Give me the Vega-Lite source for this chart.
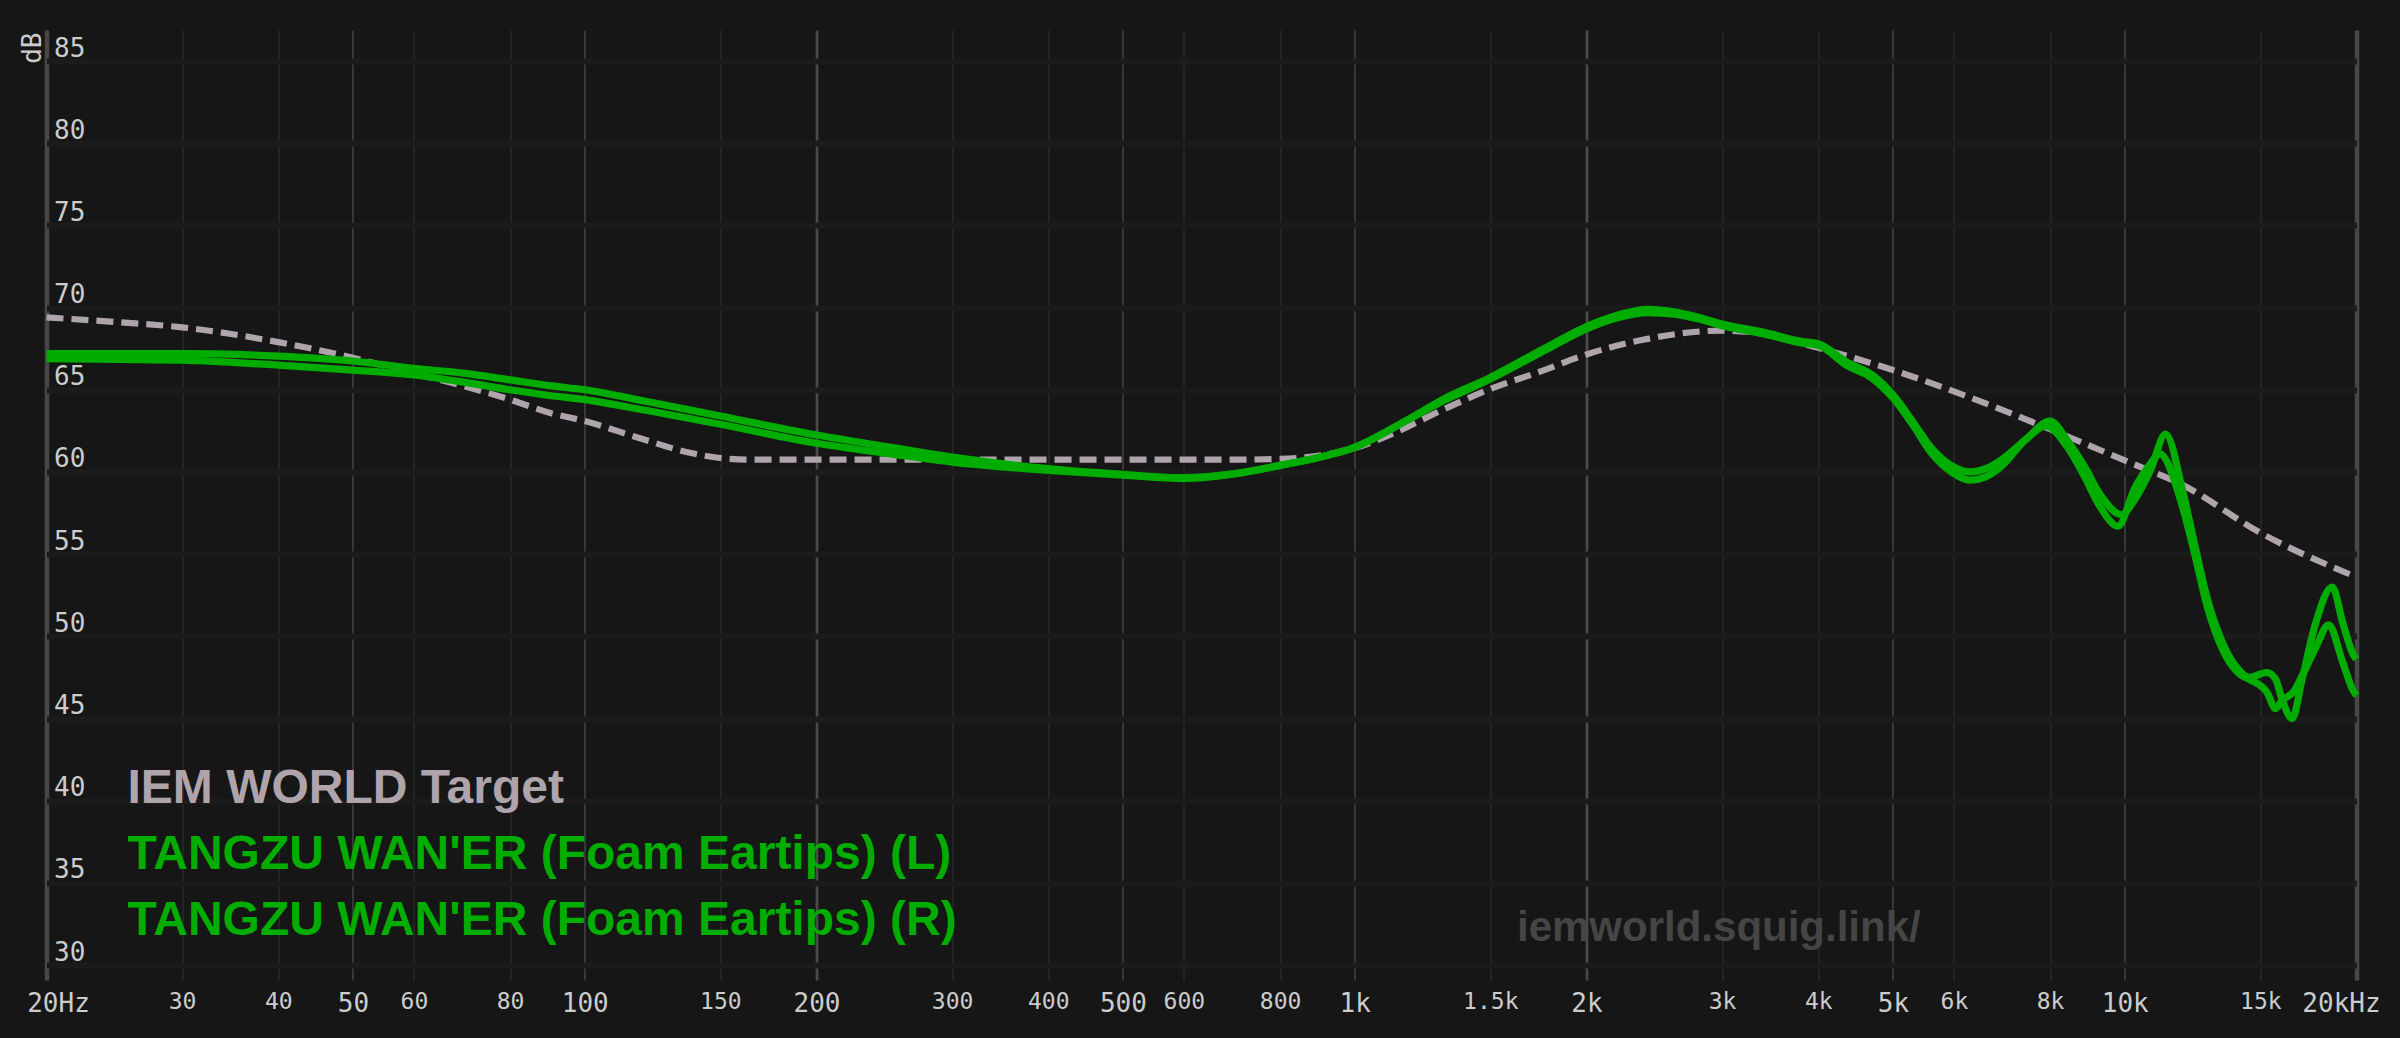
{
  "$schema": "https://vega.github.io/schema/vega-lite/v6.json",
  "width": 2310,
  "height": 950,
  "autosize": "none",
  "padding": {"left": 46.5, "top": 30, "right": 43.5, "bottom": 58},
  "background": "#161616",
  "config": {"view": {"stroke": null}, "font": "Liberation Sans"},
  "title": {
    "text": "iemworld.squig.link/",
    "orient": "top",
    "anchor": "start",
    "frame": "group",
    "font": "Liberation Sans",
    "fontSize": 42,
    "fontWeight": "bold",
    "color": "#454545",
    "baseline": "alphabetic",
    "offset": 0,
    "dx": 1470.5,
    "dy": 952.5
  },
  "datasets": {
    "target": [
      {"series": "IEM WORLD Target", "freq": 20, "db": 69.4},
      {"series": "IEM WORLD Target", "freq": 25, "db": 69.1},
      {"series": "IEM WORLD Target", "freq": 30, "db": 68.8},
      {"series": "IEM WORLD Target", "freq": 40, "db": 67.9},
      {"series": "IEM WORLD Target", "freq": 50, "db": 66.95},
      {"series": "IEM WORLD Target", "freq": 60, "db": 66.0},
      {"series": "IEM WORLD Target", "freq": 70, "db": 65.2},
      {"series": "IEM WORLD Target", "freq": 80, "db": 64.4},
      {"series": "IEM WORLD Target", "freq": 90, "db": 63.6},
      {"series": "IEM WORLD Target", "freq": 100, "db": 63.1},
      {"series": "IEM WORLD Target", "freq": 118, "db": 62.05},
      {"series": "IEM WORLD Target", "freq": 136, "db": 61.2},
      {"series": "IEM WORLD Target", "freq": 150, "db": 60.85},
      {"series": "IEM WORLD Target", "freq": 165, "db": 60.75},
      {"series": "IEM WORLD Target", "freq": 200, "db": 60.75},
      {"series": "IEM WORLD Target", "freq": 300, "db": 60.75},
      {"series": "IEM WORLD Target", "freq": 400, "db": 60.75},
      {"series": "IEM WORLD Target", "freq": 500, "db": 60.75},
      {"series": "IEM WORLD Target", "freq": 600, "db": 60.75},
      {"series": "IEM WORLD Target", "freq": 700, "db": 60.75},
      {"series": "IEM WORLD Target", "freq": 800, "db": 60.8},
      {"series": "IEM WORLD Target", "freq": 900, "db": 61.0},
      {"series": "IEM WORLD Target", "freq": 1000, "db": 61.45},
      {"series": "IEM WORLD Target", "freq": 1110, "db": 62.25},
      {"series": "IEM WORLD Target", "freq": 1290, "db": 63.7},
      {"series": "IEM WORLD Target", "freq": 1500, "db": 65.05},
      {"series": "IEM WORLD Target", "freq": 1740, "db": 66.1},
      {"series": "IEM WORLD Target", "freq": 2000, "db": 67.15},
      {"series": "IEM WORLD Target", "freq": 2400, "db": 68.1},
      {"series": "IEM WORLD Target", "freq": 3000, "db": 68.6},
      {"series": "IEM WORLD Target", "freq": 3400, "db": 68.4},
      {"series": "IEM WORLD Target", "freq": 4000, "db": 67.55},
      {"series": "IEM WORLD Target", "freq": 5000, "db": 66.2},
      {"series": "IEM WORLD Target", "freq": 6000, "db": 64.9},
      {"series": "IEM WORLD Target", "freq": 8000, "db": 62.6},
      {"series": "IEM WORLD Target", "freq": 10000, "db": 60.7},
      {"series": "IEM WORLD Target", "freq": 11900, "db": 59.2},
      {"series": "IEM WORLD Target", "freq": 15000, "db": 56.3},
      {"series": "IEM WORLD Target", "freq": 20000, "db": 53.6}
    ],
    "iem": [
      {"series": "TANGZU WAN'ER (Foam Eartips) (L)", "freq": 20, "db": 67.2},
      {"series": "TANGZU WAN'ER (Foam Eartips) (L)", "freq": 25, "db": 67.2},
      {"series": "TANGZU WAN'ER (Foam Eartips) (L)", "freq": 30, "db": 67.2},
      {"series": "TANGZU WAN'ER (Foam Eartips) (L)", "freq": 40, "db": 67.05},
      {"series": "TANGZU WAN'ER (Foam Eartips) (L)", "freq": 50, "db": 66.75},
      {"series": "TANGZU WAN'ER (Foam Eartips) (L)", "freq": 60, "db": 66.3},
      {"series": "TANGZU WAN'ER (Foam Eartips) (L)", "freq": 70, "db": 66.0},
      {"series": "TANGZU WAN'ER (Foam Eartips) (L)", "freq": 80, "db": 65.6},
      {"series": "TANGZU WAN'ER (Foam Eartips) (L)", "freq": 90, "db": 65.25},
      {"series": "TANGZU WAN'ER (Foam Eartips) (L)", "freq": 100, "db": 65.0},
      {"series": "TANGZU WAN'ER (Foam Eartips) (L)", "freq": 120, "db": 64.3},
      {"series": "TANGZU WAN'ER (Foam Eartips) (L)", "freq": 150, "db": 63.4},
      {"series": "TANGZU WAN'ER (Foam Eartips) (L)", "freq": 200, "db": 62.25},
      {"series": "TANGZU WAN'ER (Foam Eartips) (L)", "freq": 250, "db": 61.5},
      {"series": "TANGZU WAN'ER (Foam Eartips) (L)", "freq": 300, "db": 60.9},
      {"series": "TANGZU WAN'ER (Foam Eartips) (L)", "freq": 400, "db": 60.2},
      {"series": "TANGZU WAN'ER (Foam Eartips) (L)", "freq": 500, "db": 59.85},
      {"series": "TANGZU WAN'ER (Foam Eartips) (L)", "freq": 600, "db": 59.65},
      {"series": "TANGZU WAN'ER (Foam Eartips) (L)", "freq": 700, "db": 59.9},
      {"series": "TANGZU WAN'ER (Foam Eartips) (L)", "freq": 800, "db": 60.4},
      {"series": "TANGZU WAN'ER (Foam Eartips) (L)", "freq": 900, "db": 60.9},
      {"series": "TANGZU WAN'ER (Foam Eartips) (L)", "freq": 1000, "db": 61.5},
      {"series": "TANGZU WAN'ER (Foam Eartips) (L)", "freq": 1170, "db": 63.15},
      {"series": "TANGZU WAN'ER (Foam Eartips) (L)", "freq": 1300, "db": 64.4},
      {"series": "TANGZU WAN'ER (Foam Eartips) (L)", "freq": 1500, "db": 65.75},
      {"series": "TANGZU WAN'ER (Foam Eartips) (L)", "freq": 1800, "db": 67.75},
      {"series": "TANGZU WAN'ER (Foam Eartips) (L)", "freq": 2000, "db": 68.85},
      {"series": "TANGZU WAN'ER (Foam Eartips) (L)", "freq": 2200, "db": 69.55},
      {"series": "TANGZU WAN'ER (Foam Eartips) (L)", "freq": 2400, "db": 69.9},
      {"series": "TANGZU WAN'ER (Foam Eartips) (L)", "freq": 2600, "db": 69.75},
      {"series": "TANGZU WAN'ER (Foam Eartips) (L)", "freq": 2800, "db": 69.4},
      {"series": "TANGZU WAN'ER (Foam Eartips) (L)", "freq": 3000, "db": 69.0},
      {"series": "TANGZU WAN'ER (Foam Eartips) (L)", "freq": 3400, "db": 68.5},
      {"series": "TANGZU WAN'ER (Foam Eartips) (L)", "freq": 3800, "db": 67.95},
      {"series": "TANGZU WAN'ER (Foam Eartips) (L)", "freq": 4000, "db": 67.8},
      {"series": "TANGZU WAN'ER (Foam Eartips) (L)", "freq": 4350, "db": 66.7},
      {"series": "TANGZU WAN'ER (Foam Eartips) (L)", "freq": 4700, "db": 65.9},
      {"series": "TANGZU WAN'ER (Foam Eartips) (L)", "freq": 5000, "db": 64.7},
      {"series": "TANGZU WAN'ER (Foam Eartips) (L)", "freq": 5300, "db": 63.1},
      {"series": "TANGZU WAN'ER (Foam Eartips) (L)", "freq": 5600, "db": 61.5},
      {"series": "TANGZU WAN'ER (Foam Eartips) (L)", "freq": 6000, "db": 60.3},
      {"series": "TANGZU WAN'ER (Foam Eartips) (L)", "freq": 6300, "db": 60.0},
      {"series": "TANGZU WAN'ER (Foam Eartips) (L)", "freq": 6600, "db": 60.2},
      {"series": "TANGZU WAN'ER (Foam Eartips) (L)", "freq": 6900, "db": 60.7},
      {"series": "TANGZU WAN'ER (Foam Eartips) (L)", "freq": 7450, "db": 62.0},
      {"series": "TANGZU WAN'ER (Foam Eartips) (L)", "freq": 8000, "db": 63.1},
      {"series": "TANGZU WAN'ER (Foam Eartips) (L)", "freq": 8400, "db": 62.0},
      {"series": "TANGZU WAN'ER (Foam Eartips) (L)", "freq": 8850, "db": 60.4},
      {"series": "TANGZU WAN'ER (Foam Eartips) (L)", "freq": 9300, "db": 58.6},
      {"series": "TANGZU WAN'ER (Foam Eartips) (L)", "freq": 9900, "db": 57.4},
      {"series": "TANGZU WAN'ER (Foam Eartips) (L)", "freq": 10300, "db": 58.3},
      {"series": "TANGZU WAN'ER (Foam Eartips) (L)", "freq": 10800, "db": 60.1},
      {"series": "TANGZU WAN'ER (Foam Eartips) (L)", "freq": 11300, "db": 62.3},
      {"series": "TANGZU WAN'ER (Foam Eartips) (L)", "freq": 11900, "db": 58.8},
      {"series": "TANGZU WAN'ER (Foam Eartips) (L)", "freq": 12300, "db": 55.8},
      {"series": "TANGZU WAN'ER (Foam Eartips) (L)", "freq": 12800, "db": 52.3},
      {"series": "TANGZU WAN'ER (Foam Eartips) (L)", "freq": 13400, "db": 49.6},
      {"series": "TANGZU WAN'ER (Foam Eartips) (L)", "freq": 14100, "db": 47.9},
      {"series": "TANGZU WAN'ER (Foam Eartips) (L)", "freq": 14500, "db": 47.5},
      {"series": "TANGZU WAN'ER (Foam Eartips) (L)", "freq": 15300, "db": 47.8},
      {"series": "TANGZU WAN'ER (Foam Eartips) (L)", "freq": 15700, "db": 47.4},
      {"series": "TANGZU WAN'ER (Foam Eartips) (L)", "freq": 16000, "db": 46.2},
      {"series": "TANGZU WAN'ER (Foam Eartips) (L)", "freq": 16500, "db": 45.0},
      {"series": "TANGZU WAN'ER (Foam Eartips) (L)", "freq": 17000, "db": 47.4},
      {"series": "TANGZU WAN'ER (Foam Eartips) (L)", "freq": 17700, "db": 50.8},
      {"series": "TANGZU WAN'ER (Foam Eartips) (L)", "freq": 18600, "db": 53.0},
      {"series": "TANGZU WAN'ER (Foam Eartips) (L)", "freq": 19200, "db": 50.8},
      {"series": "TANGZU WAN'ER (Foam Eartips) (L)", "freq": 19800, "db": 48.9},
      {"series": "TANGZU WAN'ER (Foam Eartips) (L)", "freq": 20000, "db": 48.6},
      {"series": "TANGZU WAN'ER (Foam Eartips) (R)", "freq": 20, "db": 66.9},
      {"series": "TANGZU WAN'ER (Foam Eartips) (R)", "freq": 25, "db": 66.85},
      {"series": "TANGZU WAN'ER (Foam Eartips) (R)", "freq": 30, "db": 66.8},
      {"series": "TANGZU WAN'ER (Foam Eartips) (R)", "freq": 40, "db": 66.5},
      {"series": "TANGZU WAN'ER (Foam Eartips) (R)", "freq": 50, "db": 66.2},
      {"series": "TANGZU WAN'ER (Foam Eartips) (R)", "freq": 60, "db": 65.9},
      {"series": "TANGZU WAN'ER (Foam Eartips) (R)", "freq": 70, "db": 65.45},
      {"series": "TANGZU WAN'ER (Foam Eartips) (R)", "freq": 80, "db": 65.0},
      {"series": "TANGZU WAN'ER (Foam Eartips) (R)", "freq": 90, "db": 64.65},
      {"series": "TANGZU WAN'ER (Foam Eartips) (R)", "freq": 100, "db": 64.4},
      {"series": "TANGZU WAN'ER (Foam Eartips) (R)", "freq": 120, "db": 63.75},
      {"series": "TANGZU WAN'ER (Foam Eartips) (R)", "freq": 150, "db": 62.9},
      {"series": "TANGZU WAN'ER (Foam Eartips) (R)", "freq": 200, "db": 61.75},
      {"series": "TANGZU WAN'ER (Foam Eartips) (R)", "freq": 250, "db": 61.1},
      {"series": "TANGZU WAN'ER (Foam Eartips) (R)", "freq": 300, "db": 60.6},
      {"series": "TANGZU WAN'ER (Foam Eartips) (R)", "freq": 400, "db": 60.1},
      {"series": "TANGZU WAN'ER (Foam Eartips) (R)", "freq": 500, "db": 59.8},
      {"series": "TANGZU WAN'ER (Foam Eartips) (R)", "freq": 600, "db": 59.6},
      {"series": "TANGZU WAN'ER (Foam Eartips) (R)", "freq": 700, "db": 59.9},
      {"series": "TANGZU WAN'ER (Foam Eartips) (R)", "freq": 800, "db": 60.4},
      {"series": "TANGZU WAN'ER (Foam Eartips) (R)", "freq": 900, "db": 60.9},
      {"series": "TANGZU WAN'ER (Foam Eartips) (R)", "freq": 1000, "db": 61.5},
      {"series": "TANGZU WAN'ER (Foam Eartips) (R)", "freq": 1170, "db": 63.15},
      {"series": "TANGZU WAN'ER (Foam Eartips) (R)", "freq": 1300, "db": 64.3},
      {"series": "TANGZU WAN'ER (Foam Eartips) (R)", "freq": 1500, "db": 65.65},
      {"series": "TANGZU WAN'ER (Foam Eartips) (R)", "freq": 1800, "db": 67.6},
      {"series": "TANGZU WAN'ER (Foam Eartips) (R)", "freq": 2000, "db": 68.7},
      {"series": "TANGZU WAN'ER (Foam Eartips) (R)", "freq": 2200, "db": 69.4},
      {"series": "TANGZU WAN'ER (Foam Eartips) (R)", "freq": 2400, "db": 69.7},
      {"series": "TANGZU WAN'ER (Foam Eartips) (R)", "freq": 2600, "db": 69.6},
      {"series": "TANGZU WAN'ER (Foam Eartips) (R)", "freq": 2800, "db": 69.3},
      {"series": "TANGZU WAN'ER (Foam Eartips) (R)", "freq": 3000, "db": 68.9},
      {"series": "TANGZU WAN'ER (Foam Eartips) (R)", "freq": 3400, "db": 68.4},
      {"series": "TANGZU WAN'ER (Foam Eartips) (R)", "freq": 3800, "db": 67.85},
      {"series": "TANGZU WAN'ER (Foam Eartips) (R)", "freq": 4000, "db": 67.7},
      {"series": "TANGZU WAN'ER (Foam Eartips) (R)", "freq": 4350, "db": 66.5},
      {"series": "TANGZU WAN'ER (Foam Eartips) (R)", "freq": 4700, "db": 65.7},
      {"series": "TANGZU WAN'ER (Foam Eartips) (R)", "freq": 5000, "db": 64.5},
      {"series": "TANGZU WAN'ER (Foam Eartips) (R)", "freq": 5300, "db": 62.9},
      {"series": "TANGZU WAN'ER (Foam Eartips) (R)", "freq": 5600, "db": 61.2},
      {"series": "TANGZU WAN'ER (Foam Eartips) (R)", "freq": 6000, "db": 59.9},
      {"series": "TANGZU WAN'ER (Foam Eartips) (R)", "freq": 6300, "db": 59.5},
      {"series": "TANGZU WAN'ER (Foam Eartips) (R)", "freq": 6600, "db": 59.7},
      {"series": "TANGZU WAN'ER (Foam Eartips) (R)", "freq": 6900, "db": 60.3},
      {"series": "TANGZU WAN'ER (Foam Eartips) (R)", "freq": 7450, "db": 62.0},
      {"series": "TANGZU WAN'ER (Foam Eartips) (R)", "freq": 7900, "db": 62.8},
      {"series": "TANGZU WAN'ER (Foam Eartips) (R)", "freq": 8400, "db": 61.6},
      {"series": "TANGZU WAN'ER (Foam Eartips) (R)", "freq": 8850, "db": 59.8},
      {"series": "TANGZU WAN'ER (Foam Eartips) (R)", "freq": 9300, "db": 57.85},
      {"series": "TANGZU WAN'ER (Foam Eartips) (R)", "freq": 9800, "db": 56.7},
      {"series": "TANGZU WAN'ER (Foam Eartips) (R)", "freq": 10300, "db": 59.0},
      {"series": "TANGZU WAN'ER (Foam Eartips) (R)", "freq": 10800, "db": 60.5},
      {"series": "TANGZU WAN'ER (Foam Eartips) (R)", "freq": 11100, "db": 61.1},
      {"series": "TANGZU WAN'ER (Foam Eartips) (R)", "freq": 11900, "db": 57.8},
      {"series": "TANGZU WAN'ER (Foam Eartips) (R)", "freq": 12300, "db": 55.2},
      {"series": "TANGZU WAN'ER (Foam Eartips) (R)", "freq": 12800, "db": 51.8},
      {"series": "TANGZU WAN'ER (Foam Eartips) (R)", "freq": 13400, "db": 49.2},
      {"series": "TANGZU WAN'ER (Foam Eartips) (R)", "freq": 14100, "db": 47.7},
      {"series": "TANGZU WAN'ER (Foam Eartips) (R)", "freq": 14500, "db": 47.4},
      {"series": "TANGZU WAN'ER (Foam Eartips) (R)", "freq": 15300, "db": 46.6},
      {"series": "TANGZU WAN'ER (Foam Eartips) (R)", "freq": 15700, "db": 45.6},
      {"series": "TANGZU WAN'ER (Foam Eartips) (R)", "freq": 16000, "db": 46.1},
      {"series": "TANGZU WAN'ER (Foam Eartips) (R)", "freq": 16550, "db": 46.6},
      {"series": "TANGZU WAN'ER (Foam Eartips) (R)", "freq": 17000, "db": 47.6},
      {"series": "TANGZU WAN'ER (Foam Eartips) (R)", "freq": 17700, "db": 49.3},
      {"series": "TANGZU WAN'ER (Foam Eartips) (R)", "freq": 18400, "db": 50.7},
      {"series": "TANGZU WAN'ER (Foam Eartips) (R)", "freq": 19200, "db": 48.4},
      {"series": "TANGZU WAN'ER (Foam Eartips) (R)", "freq": 19800, "db": 46.7},
      {"series": "TANGZU WAN'ER (Foam Eartips) (R)", "freq": 20000, "db": 46.4}
    ]
  },
  "encoding": {
    "x": {
      "field": "freq",
      "type": "quantitative",
      "scale": {"type": "log", "domain": [20, 20000], "nice": false},
      "axis": {
        "values": [20, 30, 40, 50, 60, 80, 100, 150, 200, 300, 400, 500, 600, 800, 1000, 1500, 2000, 3000, 4000, 5000, 6000, 8000, 10000, 15000, 20000],
        "title": null,
        "domain": false,
        "ticks": false,
        "tickSize": 0,
        "labelExpr": "datum.value == 20 ? '20Hz' : datum.value == 20000 ? '20kHz' : datum.value >= 1000 ? (datum.value / 1000) + 'k' : '' + datum.value",
        "labelFont": "DejaVu Sans Mono",
        "labelColor": "#cccccc",
        "labelFontSize": {"condition": {"test": "indexof([20,50,100,200,500,1000,2000,5000,10000,20000], datum.value) >= 0", "value": 26}, "value": 23},
        "labelPadding": 10,
        "labelBaseline": "top",
        "labelOffset": {"condition": [{"test": "datum.value == 20", "value": 11.5}, {"test": "datum.value == 20000", "value": -15.5}], "value": 0},
        "labelOverlap": false,
        "labelFlush": false,
        "grid": true,
        "gridColor": {"condition": [
          {"test": "datum.value == 20 || datum.value == 20000", "value": "#474747"},
          {"test": "datum.value == 200 || datum.value == 2000", "value": "#4a4a4a"},
          {"test": "indexof([50,100,500,1000,5000,10000], datum.value) >= 0", "value": "#3c3c3c"}
        ], "value": "#2d2d2d"},
        "gridWidth": {"condition": [
          {"test": "datum.value == 20 || datum.value == 20000", "value": 4.5},
          {"test": "datum.value == 200 || datum.value == 2000", "value": 2.7},
          {"test": "indexof([50,100,500,1000,5000,10000], datum.value) >= 0", "value": 1.8}
        ], "value": 1.3}
      }
    },
    "y": {
      "field": "db",
      "type": "quantitative",
      "scale": {"domain": [29.09, 86.89], "nice": false, "zero": false},
      "axis": {
        "values": [30, 35, 40, 45, 50, 55, 60, 65, 70, 75, 80, 85],
        "title": "dB",
        "titleFont": "DejaVu Sans Mono",
        "titleFontSize": 26,
        "titleFontWeight": "normal",
        "titleColor": "#cccccc",
        "titleAngle": 270,
        "titleAlign": "right",
        "titleBaseline": "alphabetic",
        "titleX": -6.5,
        "titleY": 2,
        "domain": false,
        "ticks": false,
        "tickSize": 0,
        "labelAlign": "left",
        "labelBaseline": "alphabetic",
        "labelPadding": -7,
        "labelOffset": -5,
        "labelFont": "DejaVu Sans Mono",
        "labelFontSize": 26,
        "labelColor": "#cccccc",
        "labelFlush": false,
        "labelOverlap": false,
        "grid": true,
        "gridColor": "#1b1b1b",
        "gridWidth": 6
      }
    },
    "color": {
      "field": "series",
      "type": "nominal",
      "scale": {
        "domain": ["IEM WORLD Target", "TANGZU WAN'ER (Foam Eartips) (L)", "TANGZU WAN'ER (Foam Eartips) (R)"],
        "range": ["#afa4ac", "#00ad00", "#00ad00"]
      },
      "legend": {
        "orient": "none",
        "legendX": 33,
        "legendY": 735,
        "title": null,
        "padding": 0,
        "labelFont": "Liberation Sans",
        "labelFontWeight": "bold",
        "labelFontSize": 48,
        "labelLimit": 3000,
        "labelOffset": 0,
        "symbolSize": 0,
        "symbolOpacity": 0,
        "symbolStrokeWidth": 0,
        "rowPadding": 18,
        "encode": {"labels": {"update": {"fill": {"scale": "color", "field": "value"}}}}
      }
    }
  },
  "layer": [
    {
      "data": {"name": "target"},
      "mark": {"type": "line", "strokeWidth": 6.2, "strokeDash": [17, 8], "interpolate": "monotone", "strokeCap": "butt"}
    },
    {
      "data": {"name": "iem"},
      "mark": {"type": "line", "strokeWidth": 7.2, "interpolate": "monotone"}
    }
  ]
}
